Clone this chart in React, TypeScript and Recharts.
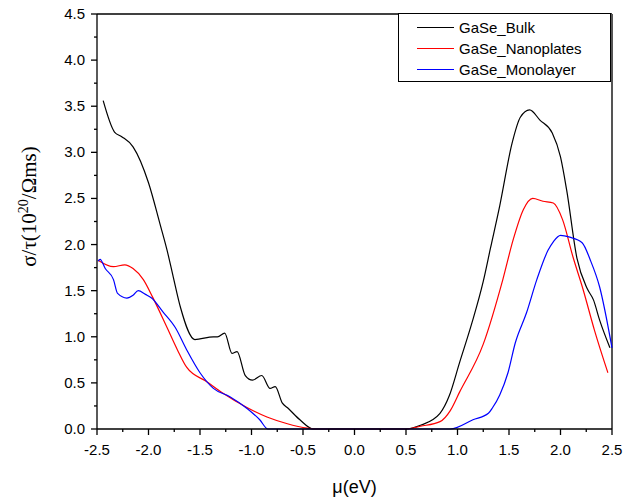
import {
  LineChart,
  Line,
  XAxis,
  YAxis,
  Legend,
  ReferenceLine,
} from "recharts";

// GaSe bulk
const bulkMu = [-2.44, -2.33, -2.26, -2.15, -2.0, -1.89, -1.82, -1.76, -1.69, -1.55, -1.37, -1.33, -1.26, -1.19, -1.14, -1.06, -0.99, -0.9, -0.82, -0.77, -0.7, -0.65, -0.53, -0.4, 0.0, 0.5, 0.64, 0.83, 0.92, 1.02, 1.14, 1.25, 1.32, 1.41, 1.53, 1.61, 1.7, 1.8, 1.92, 2.0, 2.06, 2.16, 2.26, 2.32, 2.38, 2.48];
const bulkVal = [3.56, 3.22, 3.17, 3.06, 2.67, 2.23, 1.94, 1.65, 1.32, 0.97, 1.0, 1.0, 1.04, 0.82, 0.84, 0.58, 0.53, 0.58, 0.44, 0.46, 0.28, 0.23, 0.1, 0.0, 0.0, 0.0, 0.04, 0.17, 0.36, 0.72, 1.15, 1.6, 1.96, 2.42, 3.1, 3.38, 3.46, 3.35, 3.21, 2.95, 2.59, 1.85, 1.52, 1.4, 1.18, 0.88];

// GaSe nanoplates
const nanoMu = [-2.49, -2.34, -2.23, -2.15, -2.05, -1.96, -1.82, -1.72, -1.63, -1.43, -1.28, -1.04, -0.85, -0.66, -0.46, -0.35, 0.0, 0.5, 0.64, 0.83, 0.93, 1.02, 1.25, 1.44, 1.54, 1.64, 1.73, 1.83, 1.93, 2.02, 2.12, 2.22, 2.33, 2.46];
const nanoVal = [1.83, 1.76, 1.78, 1.74, 1.62, 1.43, 1.1, 0.86, 0.67, 0.51, 0.39, 0.23, 0.13, 0.06, 0.01, 0.0, 0.0, 0.0, 0.03, 0.08, 0.2, 0.4, 0.92, 1.62, 2.05, 2.38, 2.5, 2.47, 2.45, 2.27, 1.87, 1.51, 1.07, 0.61];

// GaSe monolayer
const monoMu = [-2.49, -2.47, -2.42, -2.34, -2.3, -2.21, -2.15, -2.1, -2.03, -1.97, -1.86, -1.74, -1.63, -1.5, -1.37, -1.21, -1.04, -0.92, -0.84, 0.0, 0.93, 1.15, 1.3, 1.34, 1.41, 1.49, 1.56, 1.67, 1.77, 1.88, 1.93, 2.0, 2.09, 2.21, 2.29, 2.38, 2.5];
const monoVal = [1.82, 1.84, 1.74, 1.62, 1.47, 1.42, 1.45, 1.5, 1.46, 1.42, 1.27, 1.1, 0.86, 0.61, 0.44, 0.35, 0.22, 0.1, 0.0, 0.0, 0.0, 0.1, 0.17, 0.23, 0.37, 0.61, 0.93, 1.26, 1.62, 1.94, 2.03, 2.1, 2.08, 2.02, 1.83, 1.54, 0.88];

const xTicks = Array.from({ length: 21 }, (_, i) => -2.5 + i * 0.25);
const yTicks = Array.from({ length: 19 }, (_, i) => i * 0.25);

const series = [
  { name: "GaSe_Bulk", color: "#000000", mu: bulkMu, val: bulkVal },
  { name: "GaSe_Nanoplates", color: "#ff0000", mu: nanoMu, val: nanoVal },
  { name: "GaSe_Monolayer", color: "#0000ff", mu: monoMu, val: monoVal },
];

const sans = "'Liberation Sans', Arial, sans-serif";
const serif = "'Liberation Serif', 'Times New Roman', serif";

const isMajor = (v: number) => Math.abs(v * 2 - Math.round(v * 2)) < 1e-6;

const XTick = ({ x, y, payload }: any) => {
  const v = payload.value;
  const major = isMajor(v);
  return (
    <g>
      <line x1={x} x2={x} y1={y} y2={y + (major ? 6 : 3)} stroke="#000" strokeWidth={1.3} />
      {major && (
        <text x={x} y={y + 26} textAnchor="middle" fontFamily={sans} fontSize={15} fill="#000">
          {v.toFixed(1)}
        </text>
      )}
    </g>
  );
};

const YTick = ({ x, y, payload }: any) => {
  const v = payload.value;
  const major = isMajor(v);
  return (
    <g>
      <line x1={x} x2={x - (major ? 6 : 3)} y1={y} y2={y} stroke="#000" strokeWidth={1.3} />
      {major && (
        <text x={x - 12} y={y + 5} textAnchor="end" fontFamily={sans} fontSize={15} fill="#000">
          {v.toFixed(1)}
        </text>
      )}
    </g>
  );
};

const LegendBox = () => (
  <div
    style={{
      width: 213,
      height: 69,
      border: "1px solid #000",
      background: "#fff",
      boxSizing: "border-box",
      paddingTop: 3,
    }}
  >
    {series.map((s) => (
      <div key={s.name} style={{ display: "flex", alignItems: "center", height: 21 }}>
        <span style={{ width: 37, height: 0, borderTop: `1px solid ${s.color}`, marginLeft: 18, marginRight: 5 }} />
        <span style={{ fontFamily: sans, fontSize: 15, color: "#000" }}>{s.name}</span>
      </div>
    ))}
  </div>
);

const App = () => {
  return (
    <div style={{ position: "absolute", left: 0, top: 0, background: "#fff" }}>
      <LineChart width={624} height={503} margin={{ top: 14, right: 12, left: 0, bottom: 0 }}>
        <XAxis
          type="number"
          dataKey="mu"
          domain={[-2.5, 2.5]}
          ticks={xTicks}
          interval={0}
          tickSize={0}
          tickMargin={0}
          tick={<XTick />}
          height={74}
          stroke="#000"
          strokeWidth={1.3}
          allowDuplicatedCategory={false}
          label={{
            value: "μ(eV)",
            position: "insideBottom",
            offset: 10,
            style: { fontFamily: sans, fontSize: 18, fill: "#000" },
          }}
        />
        <YAxis
          type="number"
          domain={[0, 4.5]}
          ticks={yTicks}
          interval={0}
          tickSize={0}
          tickMargin={0}
          tick={<YTick />}
          width={97}
          stroke="#000"
          strokeWidth={1.3}
          label={({ viewBox }: any) => (
            <text
              transform={`translate(${viewBox.x + 36}, ${viewBox.y + viewBox.height / 2 - 15}) rotate(-90)`}
              textAnchor="middle"
              fontFamily={serif}
              fontSize={21}
              fill="#000"
            >
              σ/τ(10<tspan dy={-8} fontSize={14}>20</tspan>
              <tspan dy={8}>/Ωms)</tspan>
            </text>
          )}
        />
        <ReferenceLine y={4.5} stroke="#000" strokeWidth={1.3} />
        <ReferenceLine x={2.5} stroke="#555" strokeWidth={2} />
        <Legend
          layout="vertical"
          verticalAlign="middle"
          align="center"
          content={<LegendBox />}
          wrapperStyle={{ position: "absolute", top: 13, left: 398, width: 213 }}
        />
        {series.map((s) => (
          <Line
            key={s.name}
            name={s.name}
            data={s.mu.map((m, i) => ({ mu: m, value: s.val[i] }))}
            dataKey="value"
            type="monotone"
            stroke={s.color}
            strokeWidth={1.2}
            dot={false}
            activeDot={false}
            isAnimationActive={false}
          />
        ))}
      </LineChart>
    </div>
  );
};

export default App;
